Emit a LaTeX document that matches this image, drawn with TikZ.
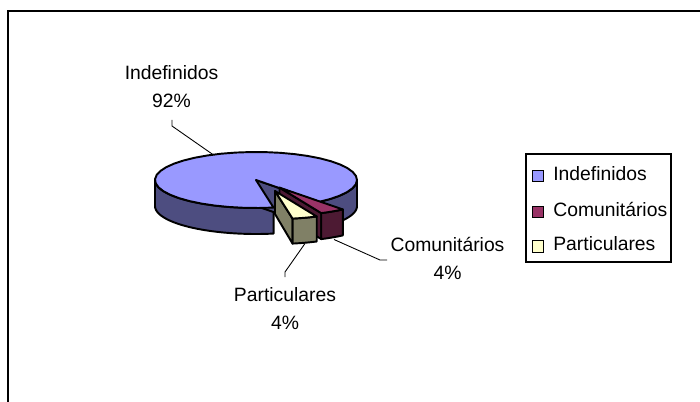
\documentclass[tikz,border=0pt]{standalone}
\usepackage{fontspec}
\setmainfont{Liberation Sans}
\definecolor{indefTop}{HTML}{9999FF}
\definecolor{indefSide}{HTML}{4D4D80}
\definecolor{comTop}{HTML}{993366}
\definecolor{comSide}{HTML}{4D1A33}
\definecolor{parTop}{HTML}{FFFFCC}
\definecolor{parSide}{HTML}{808066}

\begin{document}
\begin{tikzpicture}[x=0.02cm,y=-0.02cm,
		rim/.style={line width=1.1pt,line join=round,samples=40},
		lbl/.style={font=\fontsize{11}{15.9}\selectfont,align=center,inner sep=0pt},
		key/.style={draw,line width=0.6pt,minimum size=0.23cm,inner sep=0pt}]
	\useasboundingbox (0,0) rectangle (700,402);
	\draw[line width=0.6pt] (8,402) -- (8,11) -- (700,11);
	% Indefinidos
	\begin{scope}[rim]
		\filldraw[fill=indefSide] plot[domain=180:280] ({256+101*cos(\x)},{180-28*sin(\x)})
			-- plot[domain=280:180] ({256+101*cos(\x)},{206-28*sin(\x)}) -- cycle;
		\filldraw[fill=indefSide] plot[domain=-51.2:0] ({256+101*cos(\x)},{180-28*sin(\x)})
			-- plot[domain=0:-51.2] ({256+101*cos(\x)},{206-28*sin(\x)}) -- cycle;
		\filldraw[fill=indefSide] (256,180) -- ({256+101*cos(-51.2)},{180-28*sin(-51.2)})
			-- ({256+101*cos(-51.2)},{206-28*sin(-51.2)}) -- (256,206) -- cycle;
		\filldraw[fill=indefTop] (256,180) -- plot[domain=-51.2:280] ({256+101*cos(\x)},{180-28*sin(\x)}) -- cycle;
	\end{scope}
	% Comunitarios
	\begin{scope}[rim,shift={(23.5,7.6)}]
		\filldraw[fill=comSide] (256,180) -- ({256+101*cos(-65.6)},{180-28*sin(-65.6)})
			-- ({256+101*cos(-65.6)},{206-28*sin(-65.6)}) -- (256,206) -- cycle;
		\filldraw[fill=comSide] plot[domain=-65.6:-51.2] ({256+101*cos(\x)},{180-28*sin(\x)})
			-- plot[domain=-51.2:-65.6] ({256+101*cos(\x)},{206-28*sin(\x)}) -- cycle;
		\filldraw[fill=comTop] (256,180) -- plot[domain=-65.6:-51.2] ({256+101*cos(\x)},{180-28*sin(\x)}) -- cycle;
	\end{scope}
	% Particulares
	\begin{scope}[rim,shift={(19,11)}]
		\filldraw[fill=parSide] (256,180) -- ({256+101*cos(-80)},{180-28*sin(-80)})
			-- ({256+101*cos(-80)},{205-28*sin(-80)}) -- (256,203) -- cycle;
		\filldraw[fill=parSide] plot[domain=-80:-65.6] ({256+101*cos(\x)},{180-28*sin(\x)})
			-- plot[domain=-65.6:-80] ({256+101*cos(\x)},{205-28*sin(\x)}) -- cycle;
		\filldraw[fill=parTop] (256,180) -- plot[domain=-80:-65.6] ({256+101*cos(\x)},{180-28*sin(\x)}) -- cycle;
	\end{scope}
	% labels
	\node[lbl] (labIndef) at (171.5,86.5) {Indefinidos\\92\%};
	\node[lbl] (labCom) at (447.5,258.5) {Comunitários\\4\%};
	\node[lbl] (labPar) at (285,308.5) {Particulares\\4\%};
	\coordinate (tipIndef) at (172,120);
	\coordinate (kneeIndef) at (172,126);
	\coordinate (rimIndef) at (213,154.6);
	\coordinate (tipCom) at (387,260);
	\coordinate (kneeCom) at (380,260);
	\coordinate (rimCom) at (334,239.5);
	\coordinate (tipPar) at (285,277);
	\coordinate (kneePar) at (285,272);
	\coordinate (rimPar) at (305,243.5);
	\draw[line width=0.5pt] (tipIndef) -- (kneeIndef) -- (rimIndef);
	\draw[line width=0.5pt] (tipCom) -- (kneeCom) -- (rimCom);
	\draw[line width=0.5pt] (tipPar) -- (kneePar) -- (rimPar);
	% legend
	\draw[line width=0.6pt] (526,154) rectangle (671,262);
	\node[key,fill=indefTop] (keyIndef) at (538,176) {};
	\node[key,fill=comTop] (keyCom) at (538,212) {};
	\node[key,fill=parTop] (keyPar) at (538,246.5) {};
	\node[lbl,anchor=base west] (txtIndef) at (553,180) {Indefinidos};
	\node[lbl,anchor=base west] (txtCom) at (553,216) {Comunitários};
	\node[lbl,anchor=base west] (txtPar) at (553,250) {Particulares};
\end{tikzpicture}
\end{document}
